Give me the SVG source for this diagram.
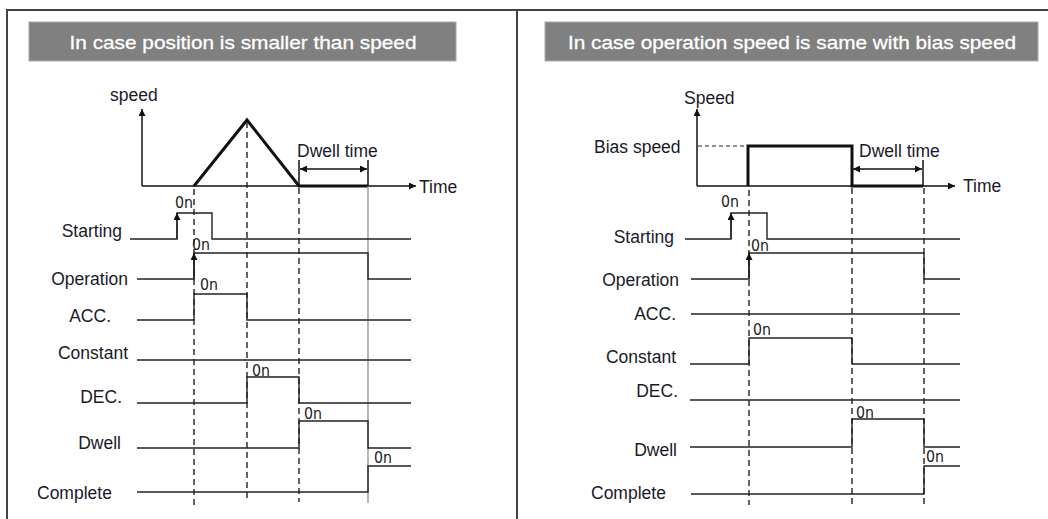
<svg xmlns="http://www.w3.org/2000/svg" width="1048" height="519" viewBox="0 0 1048 519">
<defs>
<marker id="arr" viewBox="0 0 10 10" refX="10" refY="5" markerWidth="9" markerHeight="7" markerUnits="userSpaceOnUse" orient="auto-start-reverse">
<path d="M0,0 L10,5 L0,10 z" fill="#111"/>
</marker>
<style>
.frame{stroke:#444;stroke-width:2;fill:none}
.tbox{fill:#808080;stroke:#aaa;stroke-width:1}
.ttl{font-family:"Liberation Sans",Arial,sans-serif;font-size:19px;fill:#fff;text-anchor:middle;stroke:#fff;stroke-width:0.3}
.lbl{font-family:"Liberation Sans",Arial,sans-serif;font-size:17.5px;fill:#1a1a2a}
.end{text-anchor:end}
.on{font-family:"DejaVu Sans Condensed","DejaVu Sans",sans-serif;font-size:15px;fill:#222}
.sig{stroke:#222;stroke-width:1.4;fill:none}
.ax{stroke:#111;stroke-width:1.5;fill:none}
.thick{stroke:#111;stroke-width:3;fill:none}
.dash{stroke:#222;stroke-width:1.4;stroke-dasharray:6,4;fill:none}
.gray{stroke:#888;stroke-width:1.2;fill:none}
</style>
</defs>
<rect width="1048" height="519" fill="#fff"/>
<g id="frame">
<path class="frame" d="M7,519 V10 H1048"/>
<line class="frame" x1="517" y1="10" x2="517" y2="519"/>
</g>
<g id="title-left">
<rect class="tbox" x="29" y="22" width="427" height="39"/>
<text class="ttl" x="243" y="49" textLength="347" lengthAdjust="spacingAndGlyphs">In case position is smaller than speed</text>
</g>
<g id="title-right">
<rect class="tbox" x="545" y="22" width="493" height="39"/>
<text class="ttl" x="792" y="49" textLength="448" lengthAdjust="spacingAndGlyphs">In case operation speed is same with bias speed</text>
</g>
<g id="connectors">
<line class="ax" x1="142" y1="186" x2="142" y2="109" marker-end="url(#arr)"/>
<line class="ax" x1="142" y1="186" x2="416" y2="186" marker-end="url(#arr)"/>
<polyline class="thick" points="194,186 247,120 299,186 368,186"/>
<line class="ax" x1="299" y1="160" x2="299" y2="186"/>
<line class="ax" x1="368" y1="160" x2="368" y2="186"/>
<line class="ax" x1="300" y1="169" x2="367" y2="169" marker-start="url(#arr)" marker-end="url(#arr)"/>
<line class="dash" x1="194" y1="189" x2="194" y2="505"/>
<line class="dash" x1="247" y1="122" x2="247" y2="500"/>
<line class="dash" x1="299" y1="188" x2="299" y2="502"/>
<line class="gray" x1="368" y1="186" x2="368" y2="503"/>
<polyline class="sig" points="130,239 177,239 177,213 212,213 212,239 411,239"/>
<line class="sig" x1="177" y1="239" x2="177" y2="213" marker-end="url(#arr)"/>
<polyline class="sig" points="137,279 194,279 194,253 368,253 368,279 411,279"/>
<line class="sig" x1="194" y1="279" x2="194" y2="253" marker-end="url(#arr)"/>
<polyline class="sig" points="137,320 194,320 194,294 247,294 247,320 411,320"/>
<line class="sig" x1="137" y1="360" x2="411" y2="360"/>
<polyline class="sig" points="137,403 247,403 247,377 299,377 299,403 411,403"/>
<polyline class="sig" points="137,448 299,448 299,421 368,421 368,448 411,448"/>
<polyline class="sig" points="137,492 368,492 368,466 411,466"/>
<line class="ax" x1="697" y1="186" x2="697" y2="109" marker-end="url(#arr)"/>
<line class="ax" x1="697" y1="186" x2="955" y2="186" marker-end="url(#arr)"/>
<line class="dash" x1="698" y1="146" x2="748" y2="146" style="stroke-dasharray:4,3;stroke-width:1"/>
<polyline class="thick" points="748,186 748,146 852,146 852,186 923,186"/>
<line class="ax" x1="923" y1="160" x2="923" y2="186"/>
<line class="ax" x1="853" y1="169" x2="922" y2="169" marker-start="url(#arr)" marker-end="url(#arr)"/>
<line class="dash" x1="749" y1="190" x2="749" y2="505"/>
<line class="dash" x1="852" y1="188" x2="852" y2="505"/>
<line class="dash" x1="924" y1="188" x2="924" y2="508"/>
<polyline class="sig" points="685,239 731,239 731,213 767,213 767,239 960,239"/>
<line class="sig" x1="731" y1="239" x2="731" y2="213" marker-end="url(#arr)"/>
<polyline class="sig" points="691,279 749,279 749,253 924,253 924,279 960,279"/>
<line class="sig" x1="749" y1="279" x2="749" y2="253" marker-end="url(#arr)"/>
<line class="sig" x1="691" y1="314" x2="960" y2="314"/>
<polyline class="sig" points="690,364 749,364 749,338 852,338 852,364 960,364"/>
<line class="sig" x1="690" y1="400" x2="960" y2="400"/>
<polyline class="sig" points="690,447 852,447 852,419 924,419 924,447 960,447"/>
<polyline class="sig" points="691,494 924,494 924,466 960,466"/>
</g>
<g id="left-chart-labels">
<text class="lbl" x="110" y="101">speed</text>
<text class="lbl" x="419" y="193">Time</text>
<text class="lbl" x="297" y="157">Dwell time</text>
</g>
<g id="left-signals">
<text class="lbl end" x="122" y="237">Starting</text>
<text class="lbl end" x="128" y="285">Operation</text>
<text class="lbl end" x="111" y="322">ACC.</text>
<text class="lbl end" x="128" y="359">Constant</text>
<text class="lbl end" x="122" y="403">DEC.</text>
<text class="lbl end" x="121" y="449">Dwell</text>
<text class="lbl" x="37" y="499">Complete</text>
<text class="on" x="175" y="208" textLength="18" lengthAdjust="spacingAndGlyphs">0n</text>
<text class="on" x="192" y="250" textLength="18" lengthAdjust="spacingAndGlyphs">0n</text>
<text class="on" x="200" y="290" textLength="18" lengthAdjust="spacingAndGlyphs">0n</text>
<text class="on" x="252" y="376" textLength="18" lengthAdjust="spacingAndGlyphs">0n</text>
<text class="on" x="304" y="419" textLength="18" lengthAdjust="spacingAndGlyphs">0n</text>
<text class="on" x="374" y="463" textLength="18" lengthAdjust="spacingAndGlyphs">0n</text>
</g>
<g id="right-chart-labels">
<text class="lbl" x="684" y="104">Speed</text>
<text class="lbl" x="594" y="153">Bias speed</text>
<text class="lbl" x="859" y="157">Dwell time</text>
<text class="lbl" x="963" y="192">Time</text>
</g>
<g id="right-signals">
<text class="lbl end" x="674" y="243">Starting</text>
<text class="lbl end" x="679" y="286">Operation</text>
<text class="lbl end" x="676" y="320">ACC.</text>
<text class="lbl end" x="676" y="363">Constant</text>
<text class="lbl end" x="678" y="397">DEC.</text>
<text class="lbl end" x="677" y="456">Dwell</text>
<text class="lbl" x="591" y="499">Complete</text>
<text class="on" x="721" y="207" textLength="18" lengthAdjust="spacingAndGlyphs">0n</text>
<text class="on" x="751" y="251" textLength="18" lengthAdjust="spacingAndGlyphs">0n</text>
<text class="on" x="753" y="335" textLength="18" lengthAdjust="spacingAndGlyphs">0n</text>
<text class="on" x="856" y="418" textLength="18" lengthAdjust="spacingAndGlyphs">0n</text>
<text class="on" x="926" y="462" textLength="18" lengthAdjust="spacingAndGlyphs">0n</text>
</g>
</svg>
